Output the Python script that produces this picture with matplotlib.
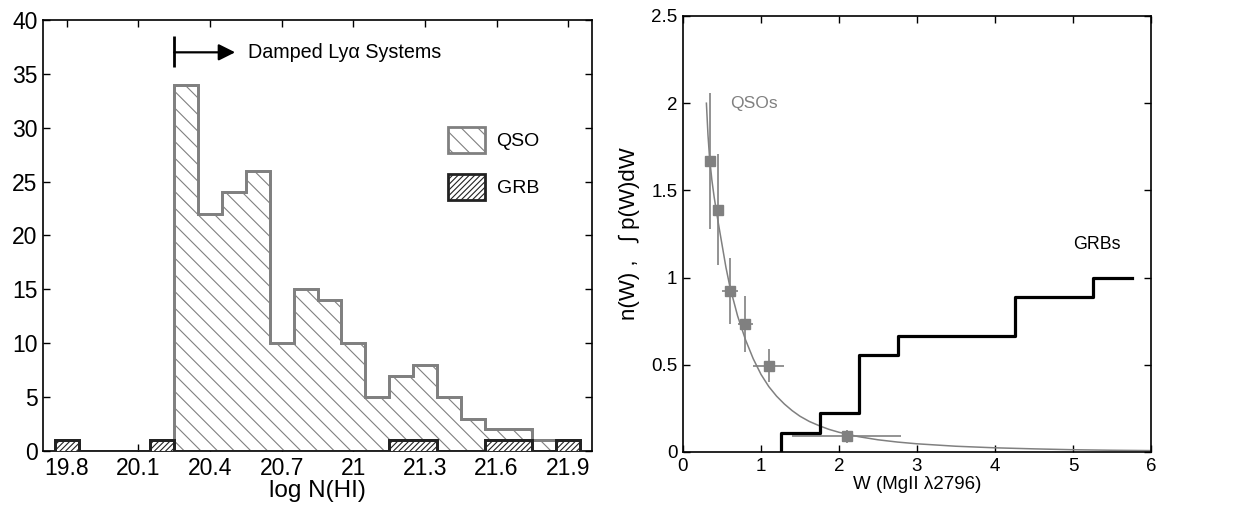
import numpy as np
import matplotlib
matplotlib.use("Agg")
import matplotlib.pyplot as plt
from matplotlib.patches import Patch

plt.rcParams['font.family'] = ['Liberation Sans', 'DejaVu Sans']
plt.rcParams['hatch.linewidth'] = 0.8

# ---------------- data: left panel (log N(HI) histogram) ----------------
qso_edges = [20.25, 20.35, 20.45, 20.55, 20.65, 20.75, 20.85, 20.95, 21.05,
             21.15, 21.25, 21.35, 21.45, 21.55, 21.65, 21.75, 21.85]
qso_counts = [34, 22, 24, 26, 10, 15, 14, 10, 5, 7, 8, 5, 3, 2, 2, 1]

grb_edges = [19.75, 19.85, 19.95, 20.05, 20.15, 20.25, 20.35, 20.45, 20.55,
             20.65, 20.75, 20.85, 20.95, 21.05, 21.15, 21.25, 21.35, 21.45,
             21.55, 21.65, 21.75, 21.85, 21.95]
grb_counts = [1, 0, 0, 0, 1, 0, 0, 0, 0, 0, 0, 0, 0, 0, 1, 1, 0, 0, 1, 1, 0, 1]

left_xticks = [19.8, 20.1, 20.4, 20.7, 21.0, 21.3, 21.6, 21.9]
left_xticklabels = ['19.8', '20.1', '20.4', '20.7', '21', '21.3', '21.6', '21.9']
left_yticks = [0, 5, 10, 15, 20, 25, 30, 35, 40]
dla_threshold = 20.25

# ---------------- data: right panel ----------------
qso_W = [0.34, 0.45, 0.60, 0.80, 1.10, 2.10]
qso_n = [1.67, 1.39, 0.925, 0.735, 0.495, 0.091]
qso_xerr = [0.0, 0.0, 0.10, 0.10, 0.20, 0.70]
qso_yerr = [0.39, 0.32, 0.19, 0.16, 0.095, 0.037]

fit_W = [0.30, 0.32, 0.34, 0.37, 0.40, 0.45, 0.50, 0.55, 0.60, 0.70, 0.80,
         0.90, 1.00, 1.10, 1.20, 1.30, 1.40, 1.50, 1.62, 1.75, 1.87, 2.00,
         2.25, 2.50, 2.75, 3.00, 3.50, 4.00, 4.50, 5.00, 5.50, 6.00]
fit_n = [2.00, 1.82, 1.69, 1.56, 1.46, 1.32, 1.19, 1.06, 0.95, 0.78, 0.645,
         0.535, 0.445, 0.375, 0.32, 0.275, 0.237, 0.205, 0.175, 0.150, 0.130,
         0.113, 0.088, 0.070, 0.057, 0.047, 0.033, 0.024, 0.018, 0.013,
         0.010, 0.008]

grb_W_edges = [1.25, 1.75, 2.25, 2.75, 3.25, 3.75, 4.25, 4.75, 5.25, 5.75]
grb_cum = [1/9, 2/9, 5/9, 6/9, 6/9, 6/9, 8/9, 8/9, 1.0]

right_xticks = [0, 1, 2, 3, 4, 5, 6]
right_yticks = [0, 0.5, 1, 1.5, 2, 2.5]

GRAY = '#808080'
FS_L = 16.5
FS_R = 13.5

fig = plt.figure(figsize=(12.6, 5.08), dpi=100)

# ================= left panel =================
ax = fig.add_axes([43/1260, 1-451/508, 549/1260, 431/508])
ax.stairs(qso_counts, qso_edges, fill=True, facecolor='white',
          edgecolor=GRAY, hatch='\\\\', linewidth=2.0, zorder=2)
ax.stairs(qso_counts, qso_edges, fill=False, edgecolor=GRAY,
          linewidth=2.0, zorder=2.1)
ax.stairs(grb_counts, grb_edges, fill=True, facecolor='white',
          edgecolor='#222222', hatch='//////', linewidth=2.0, zorder=3)
ax.stairs(grb_counts, grb_edges, fill=False, edgecolor='#222222',
          linewidth=2.0, zorder=3.1)

ax.set_xlim(19.7, 22.0)
ax.set_ylim(0, 40)
ax.set_xticks(left_xticks)
ax.set_xticklabels(left_xticklabels)
ax.set_yticks(left_yticks)
ax.tick_params(direction='in', top=True, right=True, length=5, width=1,
               labelsize=FS_L, pad=4)
ax.set_xlabel('log N(HI)', fontsize=17.5, labelpad=0)

# DLA annotation
ax.plot([dla_threshold, dla_threshold], [35.6, 38.5], color='k', lw=2,
        solid_capstyle='butt', zorder=4)
ax.annotate('', xy=(20.505, 37.0), xytext=(dla_threshold, 37.0),
            arrowprops=dict(arrowstyle='-|>', color='k', lw=1.6,
                            mutation_scale=25, shrinkA=0, shrinkB=0))
ax.text(20.56, 37.0, 'Damped Ly\u03b1 Systems', fontsize=14.2, va='center',
        ha='left')

handles = [Patch(facecolor='white', edgecolor=GRAY, hatch='\\\\', linewidth=2),
           Patch(facecolor='white', edgecolor='#222222', hatch='//////',
                 linewidth=2)]
fig.legend(handles, ['QSO', 'GRB'], loc='upper left',
           bbox_to_anchor=(448/1260, 1-127/508), frameon=False,
           fontsize=14, handlelength=1.9, handleheight=1.7,
           labelspacing=1.05, handletextpad=0.6, borderpad=0,
           borderaxespad=0)

# ================= right panel =================
ax2 = fig.add_axes([683/1260, 1-452/508, 468/1260, 436/508])
ax2.plot(fit_W, fit_n, color=GRAY, lw=1.1, zorder=2)
ax2.errorbar(qso_W, qso_n, xerr=qso_xerr, yerr=qso_yerr, fmt='s',
             color=GRAY, ecolor=GRAY, elinewidth=1.2, capsize=0,
             markersize=7, zorder=3)
step_x = [grb_W_edges[0]] + list(grb_W_edges)
step_y = [0.0] + list(grb_cum) + [grb_cum[-1]]
ax2.plot(step_x, step_y, drawstyle='steps-post', color='k', lw=2.3,
         zorder=4)

ax2.text(0.6, 2.0, 'QSOs', color=GRAY, fontsize=12.6, va='center', ha='left')
ax2.text(5.0, 1.19, 'GRBs', color='k', fontsize=12.8, va='center', ha='left')

ax2.set_xlim(0, 6)
ax2.set_ylim(0, 2.5)
ax2.set_xticks(right_xticks)
ax2.set_yticks(right_yticks)
ax2.set_yticklabels(['0', '0.5', '1', '1.5', '2', '2.5'])
ax2.tick_params(direction='in', top=True, right=True, length=5, width=1,
                labelsize=FS_R, pad=4)
ax2.set_xlabel('W (MgII \u03bb2796)', fontsize=FS_R, labelpad=1)
ax2.set_ylabel('n(W) ,   \u222b p(W)dW', fontsize=16, labelpad=8)

for a in (ax, ax2):
    for s in a.spines.values():
        s.set_linewidth(1.2)

fig.savefig('out.png', dpi=100)
